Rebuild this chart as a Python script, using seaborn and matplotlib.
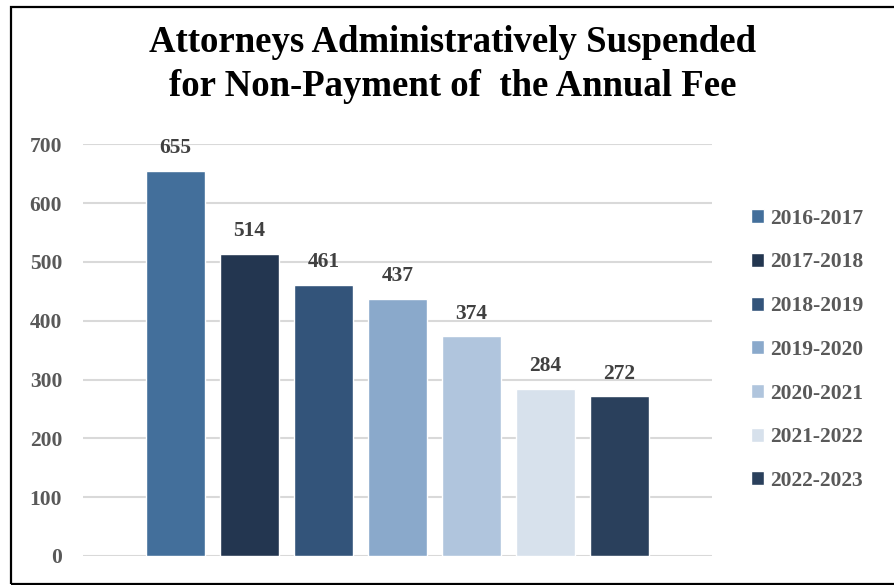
import matplotlib
matplotlib.use("Agg")
import matplotlib.pyplot as plt
import seaborn as sns
import pandas as pd
from matplotlib.patches import Rectangle, Patch

# data
years = ["2016-2017", "2017-2018", "2018-2019", "2019-2020",
         "2020-2021", "2021-2022", "2022-2023"]
suspended = [655, 514, 461, 437, 374, 284, 272]
colors = ["#436f9b", "#233650", "#33547a", "#8aa9cb",
          "#b0c5dd", "#d7e1ec", "#2a405c"]
yticks = [0, 100, 200, 300, 400, 500, 600, 700]
title_lines = ["Attorneys Administratively Suspended",
               "for Non-Payment of  the Annual Fee"]

sns.set_style("white")
plt.rcParams["font.family"] = ["Liberation Serif", "DejaVu Serif"]
plt.rcParams["font.weight"] = "bold"

df = pd.DataFrame({"year": years, "count": suspended})

fig = plt.figure(figsize=(8.94, 5.85), dpi=100)
ax = fig.add_axes([0.0928, 0.0496, 0.7036, 0.7037])

sns.barplot(data=df, x="year", y="count", hue="year", palette=colors,
            width=0.8, legend=False, ax=ax, saturation=1)

for cont in ax.containers:
    ax.bar_label(cont, padding=9, fontsize=15.5, color="#404040", fontweight="bold")

ax.set_xlim(-1.25, 7.25)
ax.set_ylim(0, 700)
ax.set_yticks(yticks)
ax.set_xticks([])
ax.set_xlabel("")
ax.set_ylabel("")
ax.yaxis.grid(True, color="#d9d9d9", linewidth=1.5)
ax.set_axisbelow(True)
sns.despine(ax=ax, left=True, bottom=True)
ax.tick_params(axis="y", length=0, pad=15, labelsize=15.5, labelcolor="#595959")
for lab in ax.get_yticklabels():
    lab.set_fontweight("bold")

handles = [Patch(facecolor=c, label=y) for c, y in zip(colors, years)]
fig.legend(handles=handles, loc="center left", bbox_to_anchor=(0.828, 0.402),
           frameon=False, labelcolor="#595959",
           handlelength=0.62, handleheight=0.62, handletextpad=0.25,
           labelspacing=1.1, borderpad=0, prop={"weight": "bold", "size": 15.5})

fig.text(0.506, 1 - 51.7 / 585, title_lines[0], ha="center", va="baseline",
         fontsize=26.5, fontweight="bold", color="black")
fig.text(0.506, 1 - 96 / 585, title_lines[1], ha="center", va="baseline",
         fontsize=26.5, fontweight="bold", color="black")

fig.patches.append(Rectangle((0.0123, 0.0017), 1.1, 0.9863, transform=fig.transFigure,
                             fill=False, edgecolor="black", linewidth=1.6, zorder=10))

fig.savefig("out.png", dpi=100)
